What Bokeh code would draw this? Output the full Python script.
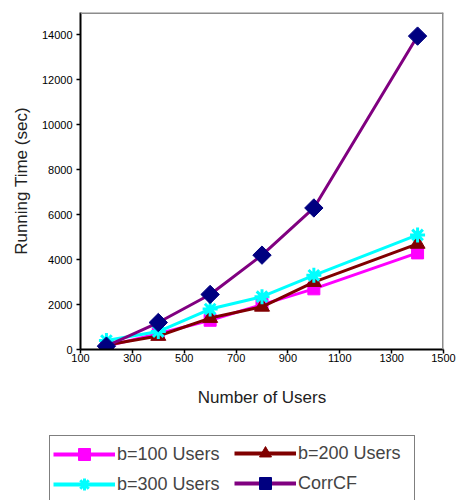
import math
from bokeh.plotting import figure
from bokeh.layouts import column
from bokeh.models import Range1d, FixedTicker, Span, Legend, LegendItem
from bokeh.embed import file_html
from bokeh.resources import INLINE

users = [200, 400, 600, 800, 1000, 1400]
b100 = [150, 700, 1300, 2000, 2700, 4300]
b200 = [200, 600, 1400, 1900, 3000, 4700]
b300 = [400, 800, 1800, 2350, 3300, 5100]
corrcf = [150, 1200, 2450, 4200, 6300, 13950]
x_ticks = [100, 300, 500, 700, 900, 1100, 1300, 1500]
y_ticks = [0, 2000, 4000, 6000, 8000, 10000, 12000, 14000]

FONT = "Liberation Sans"

p = figure(width=457, height=430, output_backend="svg", toolbar_location=None,
           x_range=Range1d(100, 1500), y_range=Range1d(0, 15000),
           min_border_left=80, min_border_right=14, min_border_top=12, min_border_bottom=81)
p.frame_align = False
p.grid.visible = False
p.outline_line_color = None
p.background_fill_color = "white"
p.border_fill_color = "white"

p.add_layout(Span(location=15000, dimension="width", line_color="#8c8c8c", line_width=3))
p.add_layout(Span(location=1500, dimension="height", line_color="#8c8c8c", line_width=3))

for ax in (p.xaxis[0], p.yaxis[0]):
    ax.axis_line_color = "black"
    ax.axis_line_width = 2
    ax.major_tick_line_color = "black"
    ax.major_tick_line_width = 1.5
    ax.major_tick_in = 0
    ax.major_tick_out = 4
    ax.minor_tick_line_color = None
    ax.major_label_text_font = FONT
    ax.major_label_text_font_size = "11px"
    ax.major_label_text_color = "black"
    ax.axis_label_text_font = FONT
    ax.axis_label_text_font_size = "17px"
    ax.axis_label_text_font_style = "normal"
    ax.axis_label_text_color = "#222222"

p.xaxis[0].ticker = FixedTicker(ticks=x_ticks)
p.yaxis[0].ticker = FixedTicker(ticks=y_ticks)
p.xaxis[0].axis_label = "Number of Users"
p.yaxis[0].axis_label = "Running Time (sec)"
p.xaxis[0].major_label_standoff = 0
p.yaxis[0].major_label_standoff = 4
p.xaxis[0].axis_label_standoff = 23
p.yaxis[0].axis_label_standoff = 8

series = [
    ("b=100 Users", b100, "#ff00ff", "#ff00ff", "square", 12, 0),
    ("b=200 Users", b200, "#800000", "#800000", "triangle", 15, 0),
    ("b=300 Users", b300, "#00ffff", "#00ffff", "asterisk", 15, 0),
    ("CorrCF", corrcf, "#800080", "#000080", "square", 13, math.pi / 4),
]

# legend-only strip below the chart (its renderers sit outside its visible range)
q = figure(width=457, height=70, output_backend="svg", toolbar_location=None,
           x_range=Range1d(0, 1), y_range=Range1d(0, 1),
           x_axis_location=None, y_axis_location=None,
           min_border_left=0, min_border_right=0, min_border_top=0, min_border_bottom=0)
q.frame_align = False
q.grid.visible = False
q.outline_line_color = None
q.border_fill_color = "white"
q.background_fill_color = "white"

hidden_x = [-5, -4]
hidden_y = [-5, -4]

items = {}
for label, ys, lc, mc, marker, size, ang in series:
    p.line(users, ys, line_color=lc, line_width=3)
    if marker == "asterisk":
        p.scatter(users, ys, marker=marker, size=size, line_color=mc, line_width=3)
    else:
        p.scatter(users, ys, marker=marker, size=size, angle=ang,
                  fill_color=mc, line_color=mc)
    lr = q.line(hidden_x, hidden_y, line_color=lc, line_width=4)
    if marker == "asterisk":
        sr = q.scatter(hidden_x, hidden_y, marker=marker, size=size, line_color=mc, line_width=3)
    else:
        sr = q.scatter(hidden_x, hidden_y, marker=marker, size=size, angle=ang,
                       fill_color=mc, line_color=mc)
    items[label] = LegendItem(label=label, renderers=[lr, sr])

common = dict(label_text_font=FONT, label_text_font_size="18px",
              glyph_width=62, glyph_height=30, label_standoff=2,
              spacing=0, padding=3, margin=0)

legend_a = Legend(items=[items["b=100 Users"], items["b=300 Users"]], location=(49, -3),
                  label_width=294, border_line_color="black", border_line_width=1.5,
                  background_fill_color="white", background_fill_alpha=1, **common)
legend_b = Legend(items=[items["b=200 Users"], items["CorrCF"]], location=(234, 2),
                  label_width=100, border_line_color=None, background_fill_alpha=0, **common)
q.add_layout(legend_a, "center")
q.add_layout(legend_b, "center")

layout = column(p, q, spacing=0)
open("out.html", "w").write(file_html(layout, INLINE))
